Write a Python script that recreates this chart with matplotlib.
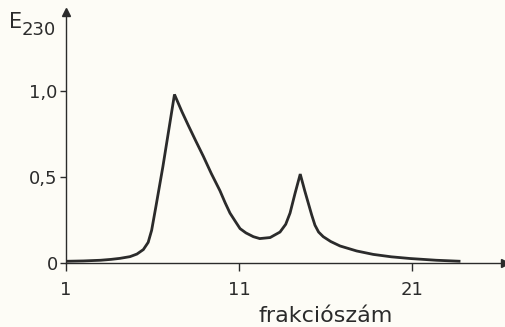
import matplotlib
matplotlib.use("Agg")
import matplotlib.pyplot as plt

# data
fraction = [1, 2, 3, 3.6, 4.12, 4.7, 5.1, 5.47, 5.75, 5.95, 6.2, 6.6, 7.27,
            7.7, 8.07, 8.5, 8.94, 9.4, 9.9, 10.2, 10.48, 10.8, 11.06, 11.4,
            11.83, 12.2, 12.8, 13.37, 13.7, 13.95, 14.24, 14.54, 14.8, 15.0,
            15.2, 15.39, 15.6, 15.87, 16.3, 16.84, 17.8, 18.76, 19.8, 20.9,
            22.4, 23.8]
absorbance = [0.01, 0.012, 0.016, 0.021, 0.027, 0.037, 0.052, 0.078, 0.12,
              0.19, 0.33, 0.56, 0.98, 0.88, 0.80, 0.71, 0.62, 0.52, 0.42,
              0.35, 0.29, 0.24, 0.20, 0.175, 0.153, 0.142, 0.148, 0.18, 0.225,
              0.29, 0.405, 0.517, 0.42, 0.35, 0.28, 0.22, 0.18, 0.153, 0.125,
              0.099, 0.07, 0.05, 0.036, 0.026, 0.016, 0.01]
x_ticks = [1, 11, 21]
x_tick_labels = ["1", "11", "21"]
y_ticks = [0, 0.5, 1.0]
y_tick_labels = ["0", "0,5", "1,0"]

bg = "#fdfcf6"
ink = "#2b2b2b"

fig = plt.figure(figsize=(5.05, 3.27), dpi=100, facecolor=bg)
ax = fig.add_axes([66/505, (327-263)/327, (505-66)/505, (263-12)/327])
ax.set_facecolor(bg)
ax.set_xlim(1, 1 + (505-66)/17.3)
ax.set_ylim(0, (263-12)/172)

ax.plot(fraction, absorbance, color=ink, lw=2.0, solid_joinstyle="miter",
        solid_capstyle="butt")

for s in ["top", "right"]:
    ax.spines[s].set_visible(False)
for s in ["left", "bottom"]:
    ax.spines[s].set_color(ink)
    ax.spines[s].set_linewidth(1.0)

# arrows
ax.plot(1, 0, ">", color=ink, ms=6, transform=ax.transAxes, clip_on=False)
ax.plot(0, 1, "^", color=ink, ms=6, transform=ax.transAxes, clip_on=False)

ax.set_xticks(x_ticks)
ax.set_xticklabels(x_tick_labels)
ax.set_yticks(y_ticks)
ax.set_yticklabels(y_tick_labels)
ax.tick_params(colors=ink, labelsize=13, width=1.0)
ax.tick_params(axis="x", length=6, pad=7)
ax.tick_params(axis="y", length=4, pad=2)

fig.text(326/505, 1 - 316/327, "frakciószám", ha="center", va="center",
         fontsize=16, color=ink)
fig.text(9/505, 1 - 22/327, "E", ha="left", va="center", fontsize=15, color=ink)
fig.text(22/505, 1 - 30/327, "230", ha="left", va="center", fontsize=13, color=ink)

fig.savefig("out.png", dpi=100, facecolor=bg)
